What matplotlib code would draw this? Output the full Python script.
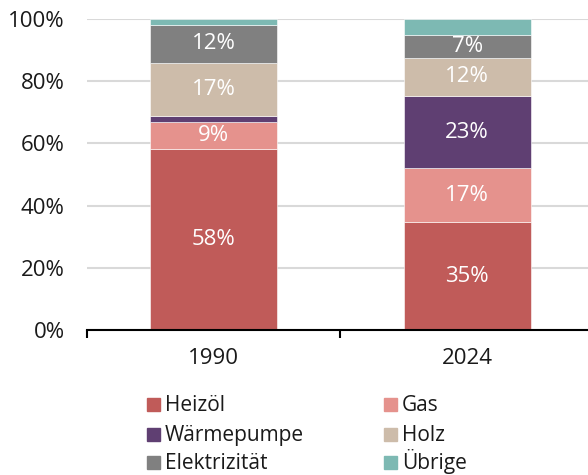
import matplotlib
matplotlib.use("Agg")
import matplotlib.pyplot as plt
from matplotlib.patches import Rectangle

plt.rcParams["font.family"] = ["Open Sans", "DejaVu Sans"]

jahre = ["1990", "2024"]
quellen = ["Heizöl", "Gas", "Wärmepumpe", "Holz", "Elektrizität", "Übrige"]
anteile = {
    "Heizöl": [58.2, 34.7],
    "Gas": [8.7, 17.4],
    "Wärmepumpe": [2.0, 23.1],
    "Holz": [17.0, 12.4],
    "Elektrizität": [12.3, 7.2],
    "Übrige": [1.8, 5.2],
}
farben = ["#C05B59", "#E5928D", "#5F3F72", "#CDBCAA", "#808080", "#7DB9B3"]

W, H = 588, 475
fig = plt.figure(figsize=(W / 100, H / 100), dpi=100)
ax = fig.add_axes([87 / W, 1 - 330 / H, 507 / W, (330 - 19) / H])

x = list(range(len(jahre)))
unten = [0.0] * len(jahre)
for q, c in zip(quellen, farben):
    werte = anteile[q]
    ax.bar(x, werte, 0.5, bottom=unten, color=c, label=q, edgecolor="white", linewidth=0.4, zorder=3)
    for i, v in enumerate(werte):
        if v >= 6:
            ax.text(x[i], unten[i] + v / 2, f"{round(v)}%", ha="center", va="center",
                    color="white", fontsize=16, zorder=4)
    unten = [u + v for u, v in zip(unten, werte)]

ax.set_xlim(-0.5, 1.5)
ax.set_ylim(0, 100)
ax.set_yticks(range(0, 101, 20))
ax.set_yticklabels([f"{t}%" for t in range(0, 101, 20)], fontsize=16, color="#1a1a1a")
ax.yaxis.grid(True, color="#D9D9D9", linewidth=1.5, zorder=0)
ax.tick_params(axis="y", length=0, pad=16)

ax.set_xticks(x)
ax.set_xticklabels(jahre, fontsize=16, color="#1a1a1a")
ax.set_xticks([-0.5, 0.5, 1.5], minor=True)
ax.tick_params(axis="x", which="major", length=0, pad=13)
ax.tick_params(axis="x", which="minor", length=6, width=1.5, direction="out", color="black")

for s in ["top", "right", "left"]:
    ax.spines[s].set_visible(False)
ax.spines["bottom"].set_linewidth(1.5)
ax.spines["bottom"].set_zorder(5)

# Legende zeilenweise, 2 Spalten (Pixelpositionen)
spalte_x = [147, 384]
zeile_y = [411, 441, 469]  # Grundlinie
for i, (q, c) in enumerate(zip(quellen, farben)):
    px = spalte_x[i % 2]
    py = zeile_y[i // 2]
    fig.add_artist(Rectangle((px / W, 1 - py / H), 13 / W, 13 / H,
                             transform=fig.transFigure, color=c))
    fig.text((px + 18) / W, 1 - py / H, q, fontsize=15, color="#1a1a1a",
             ha="left", va="baseline")

fig.savefig("out.png", dpi=100)
print("salvo: out.png")
